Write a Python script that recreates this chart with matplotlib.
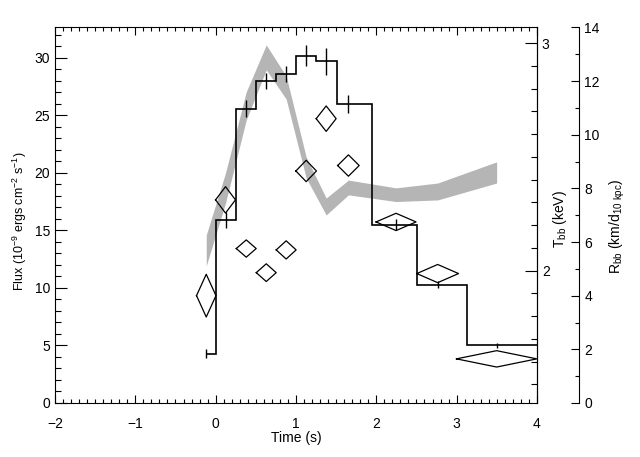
import matplotlib
matplotlib.use("Agg")
import matplotlib.pyplot as plt
import numpy as np

plt.rcParams['font.family'] = ['Liberation Sans', 'DejaVu Sans']
plt.rcParams['font.size'] = 10
plt.rcParams['mathtext.default'] = 'regular'

# time of each bin (s)
times = np.array([-0.117, 0.123, 0.381, 0.630, 0.878, 1.127, 1.376, 1.653, 2.246, 2.764, 3.498])
# flux (1e-9 erg/cm2/s) with errors
flux = np.array([4.3, 15.9, 25.6, 28.0, 28.6, 30.2, 29.7, 26.0, 15.5, 10.3, 5.0])
flux_err = np.array([0.4, 0.72, 0.72, 0.72, 0.72, 0.94, 1.16, 0.8, 0.5, 0.3, 0.25])
# blackbody temperature (keV), diamonds
temp = np.array([1.890, 2.311, 2.097, 1.991, 2.091, 2.438, 2.668, 2.462, 2.214, 1.987, 1.612])
temp_err = np.array([0.094, 0.058, 0.038, 0.039, 0.040, 0.047, 0.056, 0.047, 0.038, 0.040, 0.036])
time_hw = np.array([0.121, 0.124, 0.124, 0.124, 0.124, 0.128, 0.124, 0.134, 0.249, 0.26, 0.5])
# blackbody radius band (km / d_10kpc)
r_hi = np.array([6.26, 8.58, 11.60, 13.35, 12.19, 9.17, 7.64, 8.31, 8.02, 8.20, 8.99])
r_lo = np.array([5.11, 7.46, 10.55, 12.42, 11.33, 8.39, 7.01, 7.76, 7.51, 7.57, 8.20])

XMIN, XMAX = -2, 4

fig = plt.figure(figsize=(6.4, 4.57), dpi=100, facecolor='white')
ax = fig.add_axes([0.0859, 0.1182, 0.7531, 0.8217])
axr = ax.twinx()
axt = ax.twinx()
axr.set_zorder(1)
axt.set_zorder(2)
ax.set_zorder(3)
ax.patch.set_visible(False)

# radius band
axr.fill_between(times, r_lo, r_hi, color='#b5b5b5', lw=0)
axr.set_ylim(0, 14)
axr.spines['right'].set_position(('axes', 1.0871))
for s in ['left', 'top', 'bottom']:
    axr.spines[s].set_visible(False)
axr.set_yticks(np.arange(0, 15, 2))
axr.set_yticks(np.arange(0, 15, 1), minor=True)
axr.tick_params(axis='y', which='major', direction='in', length=5.8, width=0.8, pad=4)
axr.tick_params(axis='y', which='minor', direction='in', length=2.9, width=0.8)

# temperature diamonds
for t, T, e, hw in zip(times, temp, temp_err, time_hw):
    axt.plot([t - hw, t, t + hw, t, t - hw], [T, T + e, T, T - e, T], color='k', lw=0.9)
axt.set_ylim(1.418, 3.069)
for s in ['left', 'top', 'bottom']:
    axt.spines[s].set_visible(False)
axt.set_yticks([2, 3])
axt.set_yticks(np.arange(1.5, 3.05, 0.1), minor=True)
axt.tick_params(axis='y', which='major', direction='in', length=8.6, width=0.8, pad=3.5)
axt.tick_params(axis='y', which='minor', direction='in', length=4.3, width=0.8)

# flux histogram
edges = np.concatenate([[times[0]], (times[1:] + times[:-1]) / 2, [XMAX]])
ax.stairs(flux, edges, baseline=None, color='k', lw=1.2)
ax.vlines(times, flux - flux_err, flux + flux_err, color='k', lw=1.0)

ax.set_xlim(XMIN, XMAX)
ax.set_ylim(0, 32.65)
ax.set_xticks(np.arange(-2, 5, 1))
ax.set_xticks(np.arange(-2, 4.01, 0.1), minor=True)
ax.set_yticks(np.arange(0, 31, 5))
ax.set_yticks(np.arange(0, 33, 1), minor=True)
ax.tick_params(axis='x', which='both', direction='in', top=True, bottom=True, width=0.8)
ax.tick_params(axis='x', which='major', length=5.8, pad=10)
ax.tick_params(axis='x', which='minor', length=2.9)
ax.tick_params(axis='y', which='both', direction='in', left=True, right=False, width=0.8)
ax.tick_params(axis='y', which='major', length=8.6, pad=3.6)
ax.tick_params(axis='y', which='minor', length=4.3)
for s in ax.spines.values():
    s.set_linewidth(0.8)
for s in axt.spines.values():
    s.set_linewidth(0.8)
for s in axr.spines.values():
    s.set_linewidth(0.8)

fig.text(296 / 640, 1 - 438 / 457, 'Time (s)', ha='center', va='center')
fig.text(20 / 640, 1 - 221 / 457, r'Flux (10$^{-9}$ ergs cm$^{-2}$ s$^{-1}$)',
         rotation=90, ha='center', va='center', fontsize=9)
fig.text(560 / 640, 1 - 219 / 457, r'T$_{bb}$ (keV)', rotation=90, ha='center', va='center')
fig.text(617 / 640, 1 - 226 / 457, r'R$_{bb}$ (km/d$_{10\ kpc}$)', rotation=90,
         ha='center', va='center')

fig.savefig('out.png', dpi=100, facecolor='white')
